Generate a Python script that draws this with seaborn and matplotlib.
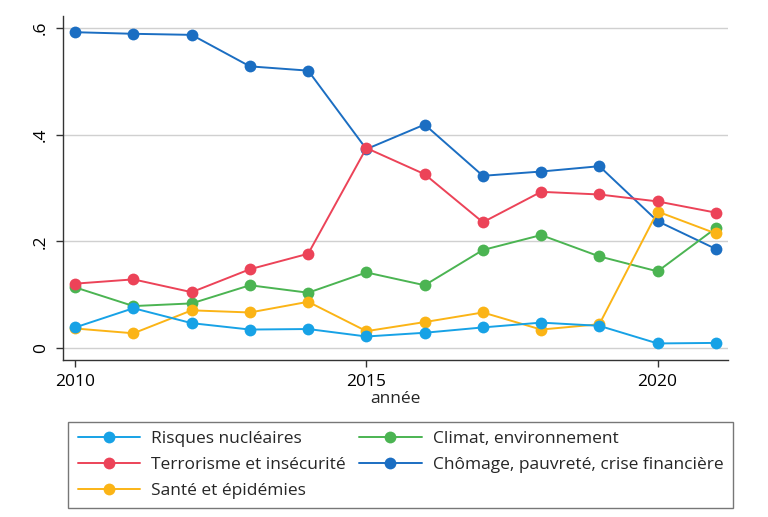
import pandas as pd
import matplotlib
matplotlib.use("Agg")
import matplotlib.pyplot as plt
import seaborn as sns

sns.set_theme(style="white")
plt.rcParams["font.family"] = ["Open Sans", "DejaVu Sans"]

years = list(range(2010, 2022))
risques = [0.039, 0.075, 0.047, 0.035, 0.036, 0.022, 0.029, 0.039, 0.048, 0.042, 0.009, 0.010]
terrorisme = [0.121, 0.129, 0.105, 0.148, 0.177, 0.375, 0.326, 0.236, 0.293, 0.288, 0.275, 0.254]
sante = [0.037, 0.028, 0.071, 0.067, 0.087, 0.032, 0.049, 0.067, 0.035, 0.045, 0.256, 0.215]
climat = [0.114, 0.079, 0.084, 0.118, 0.104, 0.142, 0.118, 0.184, 0.212, 0.172, 0.144, 0.225]
chomage = [0.592, 0.589, 0.587, 0.528, 0.520, 0.373, 0.419, 0.323, 0.331, 0.341, 0.238, 0.186]

labels = ["Risques nucléaires", "Terrorisme et insécurité", "Santé et épidémies",
          "Climat, environnement", "Chômage, pauvreté, crise financière"]
colors = ["#17a2e6", "#ec4358", "#fbb416", "#4bb452", "#1b6ec2"]

series = [risques, terrorisme, sante, climat, chomage]
df = pd.concat([pd.DataFrame({"annee": years, "val": s, "serie": lab})
                for s, lab in zip(series, labels)], ignore_index=True)

fig = plt.figure(figsize=(7.68, 5.17), dpi=100)
ax = fig.add_axes([0.082, 0.3037, 0.866, 0.665])

# draw in reverse so the first series sits on top like the original
for lab, col in reversed(list(zip(labels, colors))):
    sub = df[df["serie"] == lab]
    sns.lineplot(data=sub, x="annee", y="val", color=col, marker="o",
                 markersize=8.5, markeredgewidth=0, linewidth=1.4, ax=ax, label=lab)

ax.set_xlim(2009.79, 2021.21)
ax.set_ylim(-0.022, 0.622)
ax.set_xticks([2010, 2015, 2020])
ax.set_yticks([0, 0.2, 0.4, 0.6])
ax.set_yticklabels(["0", ".2", ".4", ".6"], rotation=90, va="center")
ax.tick_params(axis="both", which="both", direction="out", length=5, width=1,
               color="#333333", labelsize=12.5, labelcolor="black", pad=5,
               left=True, bottom=True)
ax.grid(axis="y", color="#d0d0d0", linewidth=1)
ax.grid(axis="x", visible=False)
for side in ["top", "right"]:
    ax.spines[side].set_visible(False)
for side in ["left", "bottom"]:
    ax.spines[side].set_color("#333333")
    ax.spines[side].set_linewidth(1)
ax.set_xlabel("année", fontsize=12.5, labelpad=1)
ax.set_ylabel("")

handles, labs = ax.get_legend_handles_labels()
order = [labs.index(l) for l in labels]
ax.legend_.remove()
leg = fig.legend([handles[i] for i in order], [labs[i] for i in order],
                 ncol=2, loc="center", bbox_to_anchor=(0.0885, 0.017, 0.866, 0.167),
                 mode="expand", borderaxespad=0, fontsize=12.5, frameon=True,
                 fancybox=False, edgecolor="#555555", handlelength=3.6,
                 handletextpad=0.65, labelspacing=0.55, borderpad=0.55,
                 columnspacing=1.8)
leg.get_frame().set_linewidth(1)

fig.savefig("out.png", dpi=100)
